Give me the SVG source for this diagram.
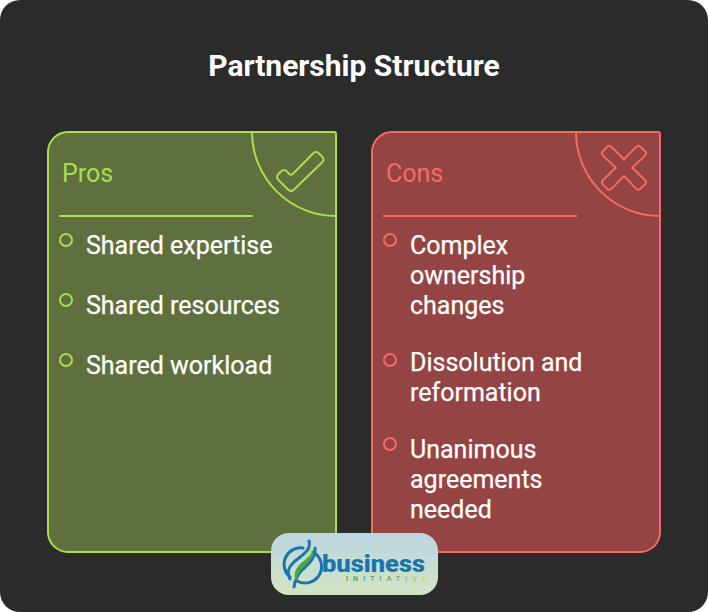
<svg xmlns="http://www.w3.org/2000/svg" width="708" height="612" viewBox="0 0 708 612">
<style>
text{font-family:Roboto,"Liberation Sans",sans-serif}
.item{font-size:25px;font-weight:400;fill:#fff;stroke:#fff;stroke-width:.25px}
.head{font-size:25px;font-weight:400}
.g{fill:none;stroke:#a6e04a;stroke-width:2}
.r{fill:none;stroke:#f56b63;stroke-width:2}
.sw{fill:none;stroke-linecap:round}
</style>
<defs>
<linearGradient id="lg" x1="0" y1="0" x2="0" y2="1"><stop offset="0" stop-color="#bcd5e2"/><stop offset="1" stop-color="#d3e4c3"/></linearGradient>
<linearGradient id="tg" x1="0" y1="0" x2="1" y2="0"><stop offset="0" stop-color="#3f9a3a"/><stop offset=".6" stop-color="#5fae3a"/><stop offset="1" stop-color="#c9dc70"/></linearGradient>
</defs>
<rect x="0" y="0" width="708" height="612" rx="20" fill="#2b2b2b"/>
<text x="354" y="75.500" text-anchor="middle" font-size="30" font-weight="700" fill="#fff">Partnership Structure</text>
<g id="pros">
<path d="M68 132H334a2 2 0 0 1 2 2V532a20 20 0 0 1-20 20H68a20 20 0 0 1-20-20V152a20 20 0 0 1 20-20Z" fill="#5f6f3e" stroke="#a6e04a" stroke-width="2"/>
<path class="g" d="M252 132A84 84 0 0 0 336 216"/>
<path class="g" d="M313 153.500Q316 150.500 319 153.500L322 156.500Q325 159.500 322 162.500L294 189.500Q291 192.500 288 189.500L278.500 180Q275.500 177 278.500 174L281 171.500Q284 168.500 287 171.500L289 173.700Q291 175.700 293 173.700Z"/>
<text class="head" x="62" y="182" fill="#a6e04a">Pros</text>
<path class="g" d="M59 216H253"/>
<circle class="g" cx="66" cy="240" r="6"/><text class="item" x="86" y="254">Shared expertise</text>
<circle class="g" cx="66" cy="300" r="6"/><text class="item" x="86" y="314">Shared resources</text>
<circle class="g" cx="66" cy="360" r="6"/><text class="item" x="86" y="374">Shared workload</text>
</g>
<g id="cons">
<path d="M392 132H658a2 2 0 0 1 2 2V532a20 20 0 0 1-20 20H392a20 20 0 0 1-20-20V152a20 20 0 0 1 20-20Z" fill="#944442" stroke="#f56b63" stroke-width="2"/>
<path class="r" d="M576 132A84 84 0 0 0 660 216"/>
<path class="r" d="M607 147Q609.300 144.700 611.600 147L624 159.300L636 147Q638.300 144.700 640.600 147L645 151Q647.300 153.300 645 155.600L632.300 167.700L645 180Q647.300 182.300 645 184.600L640.600 188.600Q638.300 190.900 636 188.600L624 176L611.600 188.600Q609.300 190.900 607 188.600L603 184.600Q600.700 182.300 603 180L615.700 167.700L603 155.600Q600.700 153.300 603 151Z"/>
<text class="head" x="386" y="182" fill="#f56b63">Cons</text>
<path class="r" d="M383 216H577"/>
<circle class="r" cx="390" cy="240" r="6"/><text class="item" x="410" y="254">Complex</text><text class="item" x="410" y="284">ownership</text><text class="item" x="410" y="314">changes</text>
<circle class="r" cx="390" cy="360" r="6"/><text class="item" x="410" y="371">Dissolution and</text><text class="item" x="410" y="401">reformation</text>
<circle class="r" cx="390" cy="444" r="6"/><text class="item" x="410" y="458">Unanimous</text><text class="item" x="410" y="488">agreements</text><text class="item" x="410" y="518">needed</text>
</g>
<g id="logo">
<rect x="271" y="533" width="167" height="62" rx="18" fill="url(#lg)"/>
<path class="sw" stroke="#1b75ad" stroke-width="3" d="M303 548A16.500 16.500 0 0 0 290 577"/>
<path class="sw" stroke="#1b75ad" stroke-width="3" d="M297 581A16.500 16.500 0 0 0 313 552"/>
<path class="sw" stroke="#1b75ad" stroke-width="3" d="M309 541C312 551 300 556 293 563C288 568 287 574 290 579"/>
<path class="sw" stroke="#1b75ad" stroke-width="3" d="M315 548C316 559 307 565 302 570C298 574 295 580 294 587"/>
<path d="M313 550C314 559 306 564 301 570C298 574 297 578 296 582C293 575 295 569 301 563C306 559 311 556 313 550Z" fill="#4fa63a"/>
<path d="M311 543C314 550 310 555 304 560C308 555 311 550 311 543Z" fill="#c3dc60"/>
<text x="322" y="572" font-size="24" font-weight="900" fill="#1b75ad" textLength="103" lengthAdjust="spacingAndGlyphs">business</text>
<text x="346" y="581" font-size="7" font-weight="500" fill="url(#tg)" textLength="80">INITIATIVE</text>
</g>
</svg>
